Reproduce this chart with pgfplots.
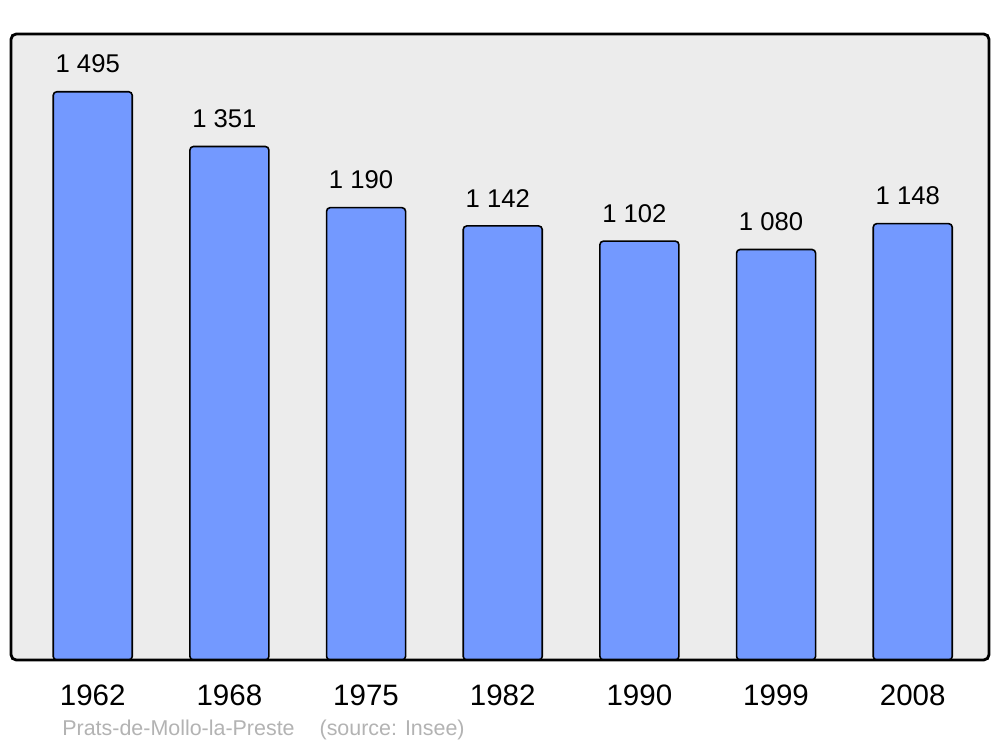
\documentclass[border=0pt]{standalone}
\usepackage{pgfplots}
\pgfplotsset{compat=1.18}
\usepackage{fontspec}
\setmainfont{Liberation Sans}
\definecolor{bgc}{HTML}{ECECEC}
\definecolor{barc}{HTML}{7399FF}
\definecolor{srcc}{HTML}{B3B3B3}
\begin{document}
\begin{tikzpicture}
\path[use as bounding box, fill=white] (0,0) rectangle (20cm,14.94cm);
\begin{axis}[
  at={(0.22cm,1.74cm)}, anchor=south west,
  scale only axis, width=19.56cm, height=12.52cm,
  xmin=-0.598, xmax=6.558, ymin=0, ymax=1647,
  axis lines=none, clip=false,
  axis background/.style={fill=bgc},
  ybar, bar width=1.58cm,
  xtick={0,...,6},
  xticklabels={1962,1968,1975,1982,1990,1999,2008},
  xtick style={draw=none},
  ytick=\empty,
  point meta=explicit symbolic,
  nodes near coords,
  every node near coord/.append style={font=\fontsize{14.6pt}{17pt}\selectfont, anchor=south, inner sep=0pt, yshift=0.36cm, xshift=-0.1cm},
]
\addplot[fill=barc, draw=black, line width=0.9pt, rounded corners=2pt] coordinates {
(0,1495) [1 495]
(1,1351) [1 351]
(2,1190) [1 190]
(3,1142) [1 142]
(4,1102) [1 102]
(5,1080) [1 080]
(6,1148) [1 148]
};
\draw[line width=1.6pt, rounded corners=3pt] (rel axis cs:0,0) rectangle (rel axis cs:1,1);
\foreach \i/\l in {0/1962,1/1968,2/1975,3/1982,4/1990,5/1999,6/2008}{
  \edef\tmp{\noexpand\node[font=\noexpand\fontsize{16.8pt}{19pt}\noexpand\selectfont, anchor=center] at (axis cs:\i,0) [yshift=-0.7cm] {\l};}\tmp
}
\end{axis}
\node[anchor=west, text=srcc, font=\fontsize{12.2pt}{14pt}\selectfont, inner sep=0pt] at (1.24cm,0.34cm) {Prats-de-Mollo-la-Preste\hspace{0.5cm}(source: Insee)};
\end{tikzpicture}
\end{document}
